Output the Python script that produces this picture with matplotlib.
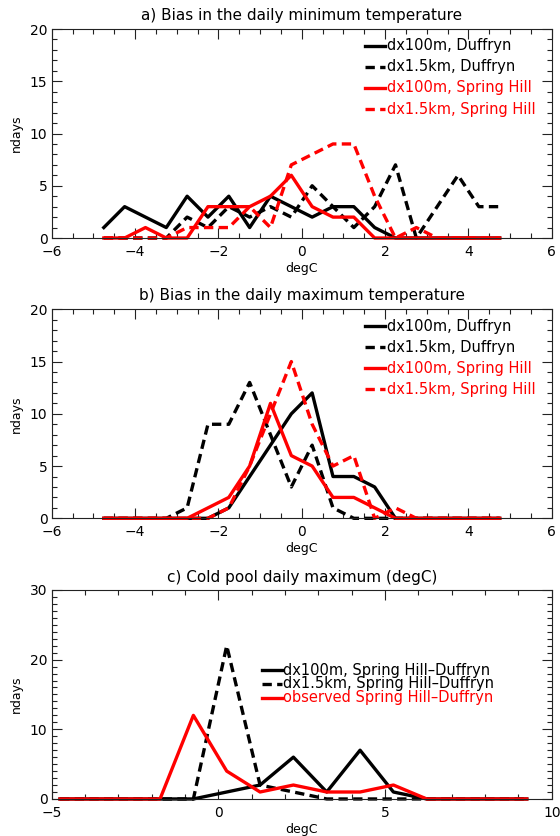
import matplotlib
matplotlib.use("Agg")
import matplotlib.pyplot as plt
from matplotlib.ticker import MultipleLocator

# ── bin centres (degC) ──────────────────────────────────────────────────────
bins_ab = [-4.75, -4.25, -3.75, -3.25, -2.75, -2.25, -1.75, -1.25, -0.75, -0.25,
           0.25, 0.75, 1.25, 1.75, 2.25, 2.75, 3.25, 3.75, 4.25, 4.75]
bins_c = [-4.75, -3.75, -2.75, -1.75, -0.75, 0.25, 1.25, 2.25, 3.25, 4.25,
          5.25, 6.25, 7.25, 8.25, 9.25]

# a) bias in daily minimum temperature (ndays per bin)
tmin_100m_duf = [1, 3, 2, 1, 4, 2, 4, 1, 4, 3, 2, 3, 3, 1, 0, 0, 0, 0, 0, 0]
tmin_1p5km_duf = [0, 0, 0, 0, 2, 1, 3, 2, 3, 2, 5, 3, 1, 3, 7, 0, 3, 6, 3, 3]
tmin_100m_sh = [0, 0, 1, 0, 0, 3, 3, 3, 4, 6, 3, 2, 2, 0, 0, 0, 0, 0, 0, 0]
tmin_1p5km_sh = [0, 0, 0, 0, 1, 1, 1, 3, 1, 7, 8, 9, 9, 4, 0, 1, 0, 0, 0, 0]

# b) bias in daily maximum temperature
tmax_100m_duf = [0, 0, 0, 0, 0, 0, 1, 4, 7, 10, 12, 4, 4, 3, 0, 0, 0, 0, 0, 0]
tmax_1p5km_duf = [0, 0, 0, 0, 1, 9, 9, 13, 8, 3, 7, 1, 0, 0, 0, 0, 0, 0, 0, 0]
tmax_100m_sh = [0, 0, 0, 0, 0, 1, 2, 5, 11, 6, 5, 2, 2, 1, 0, 0, 0, 0, 0, 0]
tmax_1p5km_sh = [0, 0, 0, 0, 0, 0, 1, 5, 10, 15, 9, 5, 6, 0, 1, 0, 0, 0, 0, 0]

# c) cold pool daily maximum, Spring Hill minus Duffryn
pool_100m = [0, 0, 0, 0, 0, 1, 2, 6, 1, 7, 1, 0, 0, 0, 0]
pool_1p5km = [0, 0, 0, 0, 0, 22, 2, 1, 0, 0, 0, 0, 0, 0, 0]
pool_obs = [0, 0, 0, 0, 12, 4, 1, 2, 1, 1, 2, 0, 0, 0, 0]

RED = "#ff0000"
LW = 2.4
DASH = (0, (2.8, 1.6))


def style_axes(ax, xlim, ylim, xmaj, xmin, ymaj, ymin):
    ax.set_xlim(*xlim)
    ax.set_ylim(*ylim)
    ax.xaxis.set_major_locator(MultipleLocator(xmaj))
    ax.xaxis.set_minor_locator(MultipleLocator(xmin))
    ax.yaxis.set_major_locator(MultipleLocator(ymaj))
    ax.yaxis.set_minor_locator(MultipleLocator(ymin))
    ax.tick_params(which="both", direction="in", top=True, right=True,
                   width=0.8, color="#222222", labelsize=10)
    ax.tick_params(which="major", length=7)
    ax.tick_params(which="minor", length=3.5)
    ax.tick_params(axis="x", pad=5)
    ax.tick_params(axis="y", pad=3)
    for sp in ax.spines.values():
        sp.set_linewidth(0.8)
        sp.set_color("#222222")
    ax.set_xlabel("degC", fontsize=9)
    ax.set_ylabel("ndays", fontsize=9)
    ax.xaxis.set_label_coords(0.5, -0.115)
    ax.yaxis.set_label_coords(-0.058, 0.5)


def draw_key(ax, entries, x0, y0, dy):
    for i, (label, color, ls) in enumerate(entries):
        y = y0 - i * dy
        ax.plot([x0, x0 + 0.04], [y, y], transform=ax.transAxes, color=color,
                ls=ls, lw=LW, clip_on=False)
        ax.text(x0 + 0.043, y, label, transform=ax.transAxes, color=color,
                fontsize=10.5, va="center", ha="left")


fig = plt.figure(figsize=(5.6, 8.36), dpi=100)
ax_a = fig.add_axes([0.0923, 0.7153, 0.893, 0.25])
ax_b = fig.add_axes([0.0923, 0.3800, 0.893, 0.25])
ax_c = fig.add_axes([0.0923, 0.0443, 0.893, 0.25])

# ── panels a and b: model bias histograms ─────────────────────────────────
for ax, series, title in [
    (ax_a, (tmin_100m_duf, tmin_1p5km_duf, tmin_100m_sh, tmin_1p5km_sh),
     "a) Bias in the daily minimum temperature"),
    (ax_b, (tmax_100m_duf, tmax_1p5km_duf, tmax_100m_sh, tmax_1p5km_sh),
     "b) Bias in the daily maximum temperature"),
]:
    s100_duf, s1p5_duf, s100_sh, s1p5_sh = series
    ax.plot(bins_ab, s100_duf, color="black", lw=LW, clip_on=False)
    ax.plot(bins_ab, s1p5_duf, color="black", lw=LW, ls=DASH, clip_on=False)
    ax.plot(bins_ab, s100_sh, color=RED, lw=LW, clip_on=False)
    ax.plot(bins_ab, s1p5_sh, color=RED, lw=LW, ls=DASH, clip_on=False)
    style_axes(ax, (-6, 6), (0, 20), 2, 0.5, 5, 1)
    ax.set_title(title, fontsize=11, pad=6.5)
    draw_key(ax, [("dx100m, Duffryn", "black", "-"),
                  ("dx1.5km, Duffryn", "black", DASH),
                  ("dx100m, Spring Hill", RED, "-"),
                  ("dx1.5km, Spring Hill", RED, DASH)],
             0.627, 0.92, 0.101)

# ── panel c: cold pool strength ───────────────────────────────────────────
ax_c.plot(bins_c, pool_100m, color="black", lw=LW, clip_on=False)
ax_c.plot(bins_c, pool_1p5km, color="black", lw=LW, ls=DASH, clip_on=False)
ax_c.plot(bins_c, pool_obs, color=RED, lw=LW, clip_on=False)
style_axes(ax_c, (-5, 10), (0, 30), 5, 1, 10, 1)
ax_c.set_title("c) Cold pool daily maximum (degC)", fontsize=11, pad=6)
draw_key(ax_c, [("dx100m, Spring Hill\u2013Duffryn", "black", "-"),
                ("dx1.5km, Spring Hill\u2013Duffryn", "black", DASH),
                ("observed Spring Hill\u2013Duffryn", RED, "-")],
         0.42, 0.617, 0.066)

fig.savefig("out.png", dpi=100)
